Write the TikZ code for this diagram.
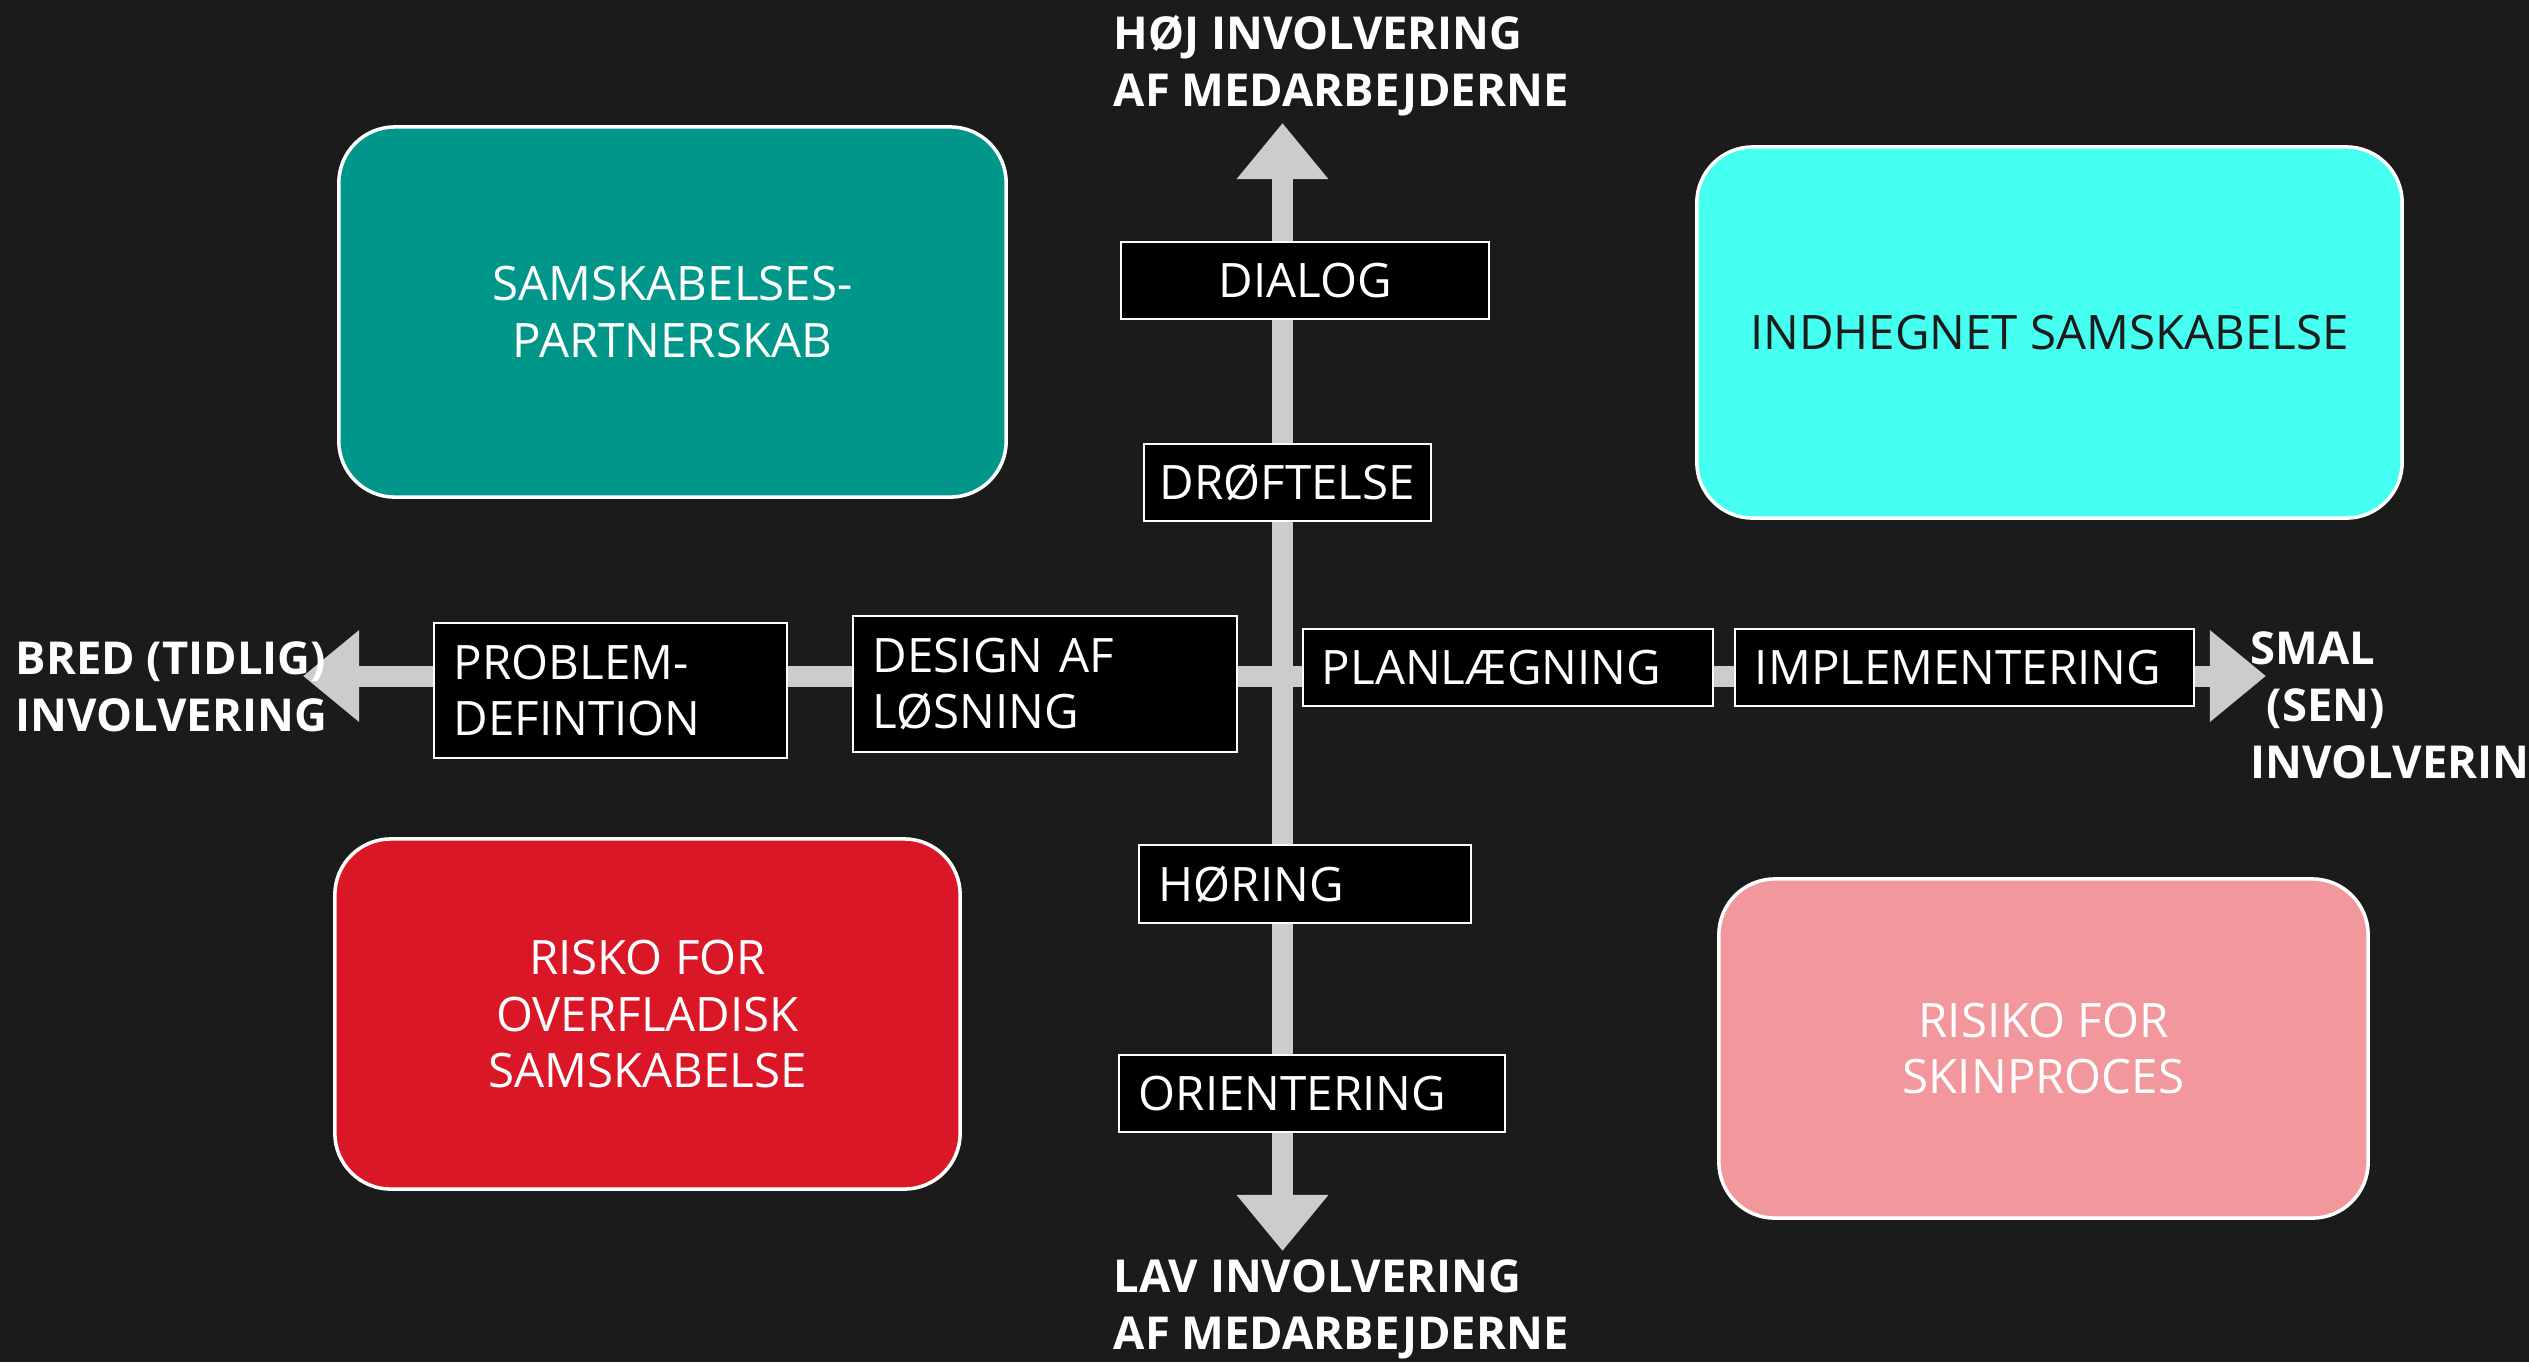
\documentclass[tikz,border=0pt]{standalone}
\usepackage{fontspec}
\setmainfont{Open Sans}
\usetikzlibrary{arrows.meta}
\definecolor{bg}{RGB}{27,27,27}
\definecolor{axisgray}{RGB}{204,204,204}
\definecolor{teal1}{RGB}{0,150,137}
\definecolor{cyan1}{RGB}{69,255,240}
\definecolor{red1}{RGB}{217,23,38}
\definecolor{pink1}{RGB}{242,152,157}
\begin{document}
\begin{tikzpicture}[x=0.01cm,y=-0.01cm,
  txt/.style={font=\fontsize{13.5}{16.2}\selectfont},
  bigbox/.style={txt, draw=white, line width=1pt, rounded corners=0.56cm, inner sep=0pt, align=center, text=white},
  stage/.style={txt, draw=white, line width=0.7pt, fill=black, text=white, inner sep=0pt, minimum height=0.77cm},
  stagec/.style={stage, align=center},
  stagel/.style={stage, align=left, inner xsep=0.2cm},
  axisline/.style={draw=axisgray, line width=0.21cm, {Triangle[length=0.56cm,width=0.88cm]}-{Triangle[length=0.56cm,width=0.88cm]}},
  lbl/.style={font=\fontsize{12.9}{16.2}\selectfont\bfseries, text=white, align=left, inner sep=0pt}
]
\fill[bg] (0,0) rectangle (2529,1362);
\useasboundingbox (0,0) rectangle (2529,1362);

% axes
\coordinate (top) at (1282.5,123);
\coordinate (bot) at (1282.5,1251);
\coordinate (lft) at (303,676);
\coordinate (rgt) at (2266,676);
\draw[axisline] (top) -- (bot);
\draw[axisline] (lft) -- (rgt);

% quadrant boxes
\node[bigbox, fill=teal1, minimum width=6.67cm, minimum height=3.70cm] (partner) at (672.5,312) {SAMSKABELSES-\\PARTNERSKAB};
\node[bigbox, fill=cyan1, text=bg, minimum width=7.05cm, minimum height=3.71cm] (indhegnet) at (2049.5,332.5) {INDHEGNET SAMSKABELSE};
\node[bigbox, fill=red1, minimum width=6.25cm, minimum height=3.50cm] (overfladisk) at (647.5,1014) {RISKO FOR\\OVERFLADISK\\SAMSKABELSE};
\node[bigbox, fill=pink1, minimum width=6.49cm, minimum height=3.39cm] (skin) at (2043.5,1048.5) {RISIKO FOR\\SKINPROCES};

% stage boxes
\node[stagec, minimum width=3.68cm] (dialog) at (1305,280.5) {DIALOG};
\node[stagec, minimum width=2.87cm] (drof) at (1287.5,482.5) {DRØFTELSE};
\node[stagel, text width=3.13cm, minimum height=1.35cm] (prob) at (610.5,690.5) {PROBLEM-\\DEFINTION};
\node[stagel, text width=3.44cm, minimum height=1.36cm] (design) at (1045,684) {DESIGN AF\\LØSNING};
\node[stagel, inner xsep=0.19cm, text width=3.72cm] (plan) at (1508,667.5) {PLANLÆGNING};
\node[stagel, text width=4.19cm] (impl) at (1964.5,667.5) {IMPLEMENTERING};
\node[stagel, text width=2.92cm, minimum height=0.78cm] (horing) at (1305,884) {HØRING};
\node[stagel, text width=3.46cm] (orient) at (1312,1093.5) {ORIENTERING};

% axis labels
\node[lbl, anchor=west] (hoj) at (1113,66) {HØJ INVOLVERING\\AF MEDARBEJDERNE};
\node[lbl, anchor=west] (lav) at (1113,1309) {LAV INVOLVERING\\AF MEDARBEJDERNE};
\node[lbl, anchor=west] (bred) at (15,687) {BRED (TIDLIG)\\INVOLVERING};
\node[lbl, anchor=west] (smal) at (2250,705) {SMAL\\\hspace*{0.16cm}(SEN)\\INVOLVERIN};
\end{tikzpicture}
\end{document}
